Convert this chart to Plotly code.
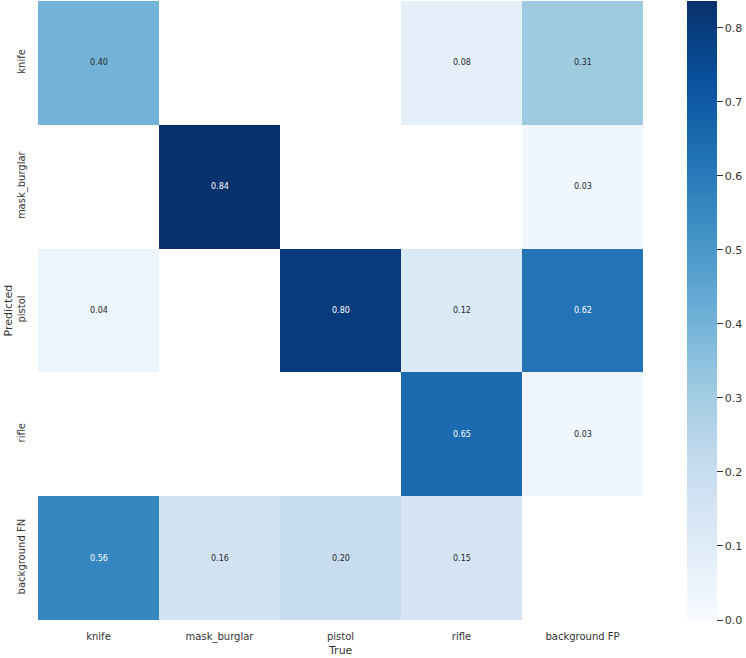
import plotly.graph_objects as go

true_labels = ["knife", "mask_burglar", "pistol", "rifle", "background FP"]
pred_labels = ["knife", "mask_burglar", "pistol", "rifle", "background FN"]

row_knife = [0.40, None, None, 0.08, 0.31]
row_mask = [None, 0.836, None, None, 0.03]
row_pistol = [0.04, None, 0.80, 0.12, 0.62]
row_rifle = [None, None, None, 0.65, 0.03]
row_bgfn = [0.56, 0.16, 0.20, 0.15, None]

z = [row_knife, row_mask, row_pistol, row_rifle, row_bgfn]

cbar_ticks = [0.0, 0.1, 0.2, 0.3, 0.4, 0.5, 0.6, 0.7, 0.8]

blues = ["#f7fbff", "#deebf7", "#c6dbef", "#9ecae1", "#6baed6",
         "#4292c6", "#2171b5", "#08519c", "#08306b"]
colorscale = [[i / (len(blues) - 1), c] for i, c in enumerate(blues)]

zmin = 0.0
zmax = max(v for r in z for v in r if v is not None)

FONT = "DejaVu Sans"
W, H = 746, 658
L, R, T, B = 38, 103, 1, 38
pw = W - L - R

fig = go.Figure()
fig.add_trace(go.Heatmap(
    z=z, x=true_labels, y=pred_labels,
    colorscale=colorscale, zmin=zmin, zmax=zmax,
    hoverongaps=False,
    colorbar=dict(
        x=(687 - L) / pw, xanchor="left", xpad=0,
        y=0, yanchor="bottom", len=1, lenmode="fraction", ypad=0,
        thickness=30, outlinewidth=0,
        tickvals=cbar_ticks, ticktext=[f"{t:.1f}" for t in cbar_ticks],
        ticks="outside", ticklen=6, tickwidth=1, tickcolor="#333333",
        tickfont=dict(family=FONT, size=11, color="#333333"),
    ),
))

annotations = []
for i, row in enumerate(z):
    for j, v in enumerate(row):
        if v is None:
            continue
        col = "#ffffff" if (v - zmin) / (zmax - zmin) > 0.6 else "#262626"
        annotations.append(dict(
            x=true_labels[j], y=pred_labels[i], xref="x", yref="y",
            text=f"{v:.2f}", showarrow=False,
            font=dict(family=FONT, size=8, color=col),
        ))

annotations.append(dict(
    x=0.5, xref="paper", y=0, yref="paper", yshift=-30, yanchor="middle",
    text="True", showarrow=False,
    font=dict(family=FONT, size=11, color="#333333"),
))
annotations.append(dict(
    x=(8 - L) / pw, xref="paper", xanchor="center",
    y=pred_labels[2], yref="y", yanchor="middle",
    text="Predicted", textangle=-90, showarrow=False,
    font=dict(family=FONT, size=11, color="#333333"),
))

fig.update_layout(
    width=W, height=H,
    margin=dict(l=L, r=R, t=T, b=B, pad=0),
    paper_bgcolor="white", plot_bgcolor="white",
    font=dict(family=FONT, size=10, color="#333333"),
    annotations=annotations,
    xaxis=dict(showgrid=False, zeroline=False, ticks="", showline=False,
               tickfont=dict(family=FONT, size=10, color="#333333"),
               ticklabelstandoff=9, constrain="domain"),
    yaxis=dict(autorange="reversed", showgrid=False, zeroline=False, ticks="",
               showline=False, tickangle=-90,
               tickfont=dict(family=FONT, size=10, color="#333333"),
               ticklabelstandoff=10),
)

fig.write_html("out.html", config={"displayModeBar": False},
               post_script="document.body.style.margin='0';")
